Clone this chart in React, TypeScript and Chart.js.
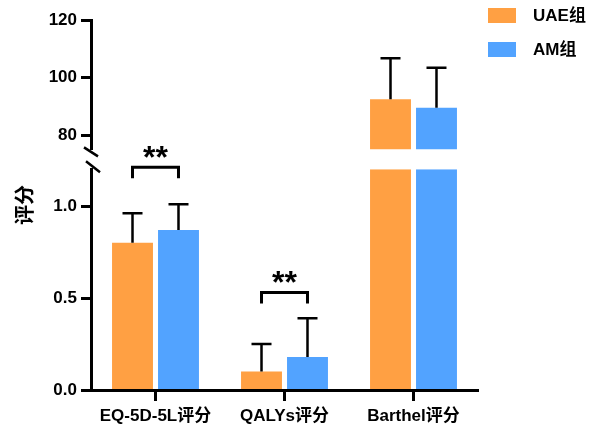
import { useEffect, useRef } from 'react';
import { Chart, registerables } from 'chart.js';

Chart.register(...registerables);

// ---- data ----
const CATEGORIES = ['EQ-5D-5L评分', 'QALYs评分', 'Barthel评分'];
const SERIES_NAMES = ['UAE组', 'AM组'];
const UAE_MEAN = [0.8, 0.1, 92.4];
const UAE_SD = [0.16, 0.15, 14.3];
const AM_MEAN = [0.87, 0.18, 89.5];
const AM_SD = [0.14, 0.21, 13.9];
const SIG_MARKS = ['**', '**', ''];
const SIG_BRACKET = [1.21, 0.53, null];
const Y_TITLE = '评分';
const LOW_MIN = 0;
const LOW_MAX = 1.2;
const LOW_STEP = 0.5;
const HIGH_MIN = 75;
const HIGH_MAX = 120;
const HIGH_STEP = 20;

// ---- styles ----
const COLORS = ['#FFA043', '#52A3FF'];
const FONT = '"Liberation Sans", Arial, "Noto Sans CJK SC", sans-serif';
const CJK_FONT = '"Liberation Sans", "Noto Sans CJK SC", sans-serif';

const MEANS = [UAE_MEAN, AM_MEAN];
const SDS = [UAE_SD, AM_SD];

const overlay = {
  id: 'overlay',
  afterDatasetsDraw(chart: any) {
    const ctx = chart.ctx;
    const area = chart.chartArea;
    const low = chart.scales.yLow;
    const high = chart.scales.yHigh;
    ctx.save();
    // error bars
    ctx.strokeStyle = '#000';
    ctx.lineWidth = 2.5;
    chart.data.datasets.forEach((ds: any, di: number) => {
      const s = ds.seriesIndex;
      const scale = chart.scales[ds.yAxisID];
      const meta = chart.getDatasetMeta(di);
      meta.data.forEach((el: any, i: number) => {
        const mean = MEANS[s][i];
        if (ds.data[i] === null || ds.data[i] !== mean) return;
        const yTop = scale.getPixelForValue(mean + SDS[s][i]);
        ctx.beginPath();
        ctx.moveTo(el.x, el.y);
        ctx.lineTo(el.x, yTop);
        ctx.moveTo(el.x - 10, yTop);
        ctx.lineTo(el.x + 10, yTop);
        ctx.stroke();
      });
    });
    // significance brackets
    const m0 = chart.getDatasetMeta(0);
    const m1 = chart.getDatasetMeta(1);
    SIG_BRACKET.forEach((v, i) => {
      if (v === null || !SIG_MARKS[i]) return;
      const x1 = m0.data[i].x;
      const x2 = m1.data[i].x;
      const yb = low.getPixelForValue(v);
      ctx.lineWidth = 3;
      ctx.beginPath();
      ctx.moveTo(x1, yb + 11);
      ctx.lineTo(x1, yb);
      ctx.lineTo(x2, yb);
      ctx.lineTo(x2, yb + 11);
      ctx.stroke();
      ctx.fillStyle = '#000';
      ctx.font = 'bold 32px ' + FONT;
      ctx.textAlign = 'center';
      ctx.textBaseline = 'alphabetic';
      ctx.fillText(SIG_MARKS[i], (x1 + x2) / 2, yb + 1);
    });
    // axis break marks
    const ax = area.left;
    ctx.lineWidth = 2.5;
    ctx.beginPath();
    ctx.moveTo(ax - 7, high.bottom - 2);
    ctx.lineTo(ax + 7, high.bottom + 7);
    ctx.moveTo(ax - 5, low.top - 8);
    ctx.lineTo(ax + 9, low.top + 3);
    ctx.stroke();
    // y title
    ctx.save();
    ctx.translate(26, (high.top + low.bottom) / 2);
    ctx.rotate(-Math.PI / 2);
    ctx.fillStyle = '#000';
    ctx.font = 'bold 20px ' + CJK_FONT;
    ctx.textAlign = 'center';
    ctx.textBaseline = 'middle';
    ctx.fillText(Y_TITLE, 0, 0);
    ctx.restore();
    // legend
    SERIES_NAMES.forEach((name, k) => {
      const y = 8 + k * 34;
      ctx.fillStyle = COLORS[k];
      ctx.fillRect(area.right + 10, y, 28, 15);
      ctx.fillStyle = '#000';
      ctx.font = 'bold 17px ' + CJK_FONT;
      ctx.textAlign = 'left';
      ctx.textBaseline = 'middle';
      ctx.fillText(name, area.right + 55, y + 8);
    });
    ctx.restore();
  },
};

export default function App() {
  const ref = useRef<HTMLCanvasElement>(null);
  useEffect(() => {
    if (!ref.current) return;
    const lowData = (arr: number[]) => arr.map((v) => Math.min(v, LOW_MAX));
    const highData = (arr: number[]) => arr.map((v) => (v > LOW_MAX ? v : null));
    const common = {
      borderWidth: 0,
      categoryPercentage: 0.713,
      barPercentage: 0.89,
    };
    const tickFont = { family: FONT, size: 17, weight: 'bold' as const };
    const yCommon = {
      type: 'linear' as const,
      position: 'left' as const,
      stack: 'v',
      stacked: false,
      grid: { display: true, drawOnChartArea: false, drawTicks: true, tickLength: 10, tickWidth: 3, tickColor: '#000' },
      border: { display: true, width: 3, color: '#000', z: 1 },
      afterFit: (s: any) => { s.width = 91; },
    };
    const chart = new Chart(ref.current, {
      type: 'bar',
      data: {
        labels: CATEGORIES,
        datasets: [
          { ...common, label: SERIES_NAMES[0], data: lowData(UAE_MEAN), backgroundColor: COLORS[0], yAxisID: 'yLow', stack: 'uae', seriesIndex: 0 } as any,
          { ...common, label: SERIES_NAMES[1], data: lowData(AM_MEAN), backgroundColor: COLORS[1], yAxisID: 'yLow', stack: 'am', seriesIndex: 1 } as any,
          { ...common, label: SERIES_NAMES[0], data: highData(UAE_MEAN), backgroundColor: COLORS[0], yAxisID: 'yHigh', stack: 'uae', base: HIGH_MIN, seriesIndex: 0 } as any,
          { ...common, label: SERIES_NAMES[1], data: highData(AM_MEAN), backgroundColor: COLORS[1], yAxisID: 'yHigh', stack: 'am', base: HIGH_MIN, seriesIndex: 1 } as any,
        ],
      },
      options: {
        animation: false,
        responsive: false,
        devicePixelRatio: 1,
        layout: { padding: { top: 20, right: 120, left: 0, bottom: 0 } },
        plugins: { legend: { display: false }, tooltip: { enabled: false } },
        scales: {
          x: {
            type: 'category',
            offset: true,
            grid: { display: true, drawOnChartArea: false, offset: false, drawTicks: true, tickLength: 11, tickWidth: 3, tickColor: '#000' },
            border: { display: true, width: 3, color: '#000', z: 1 },
            ticks: { color: '#000', font: tickFont, padding: 5, maxRotation: 0, autoSkip: false },
            afterFit: (s: any) => { s.height = 42; },
          },
          yHigh: {
            ...yCommon,
            min: HIGH_MIN,
            max: HIGH_MAX,
            weight: 3,
            stackWeight: 129.4,
            ticks: { stepSize: HIGH_STEP, includeBounds: false, color: '#000', font: tickFont, padding: 4, callback: (v: any) => String(v) },
          },
          ySpacer: {
            type: 'linear',
            position: 'left',
            stack: 'v',
            weight: 2,
            stackWeight: 19.8,
            grid: { display: false },
            border: { display: false },
            ticks: { display: false },
            afterFit: (s: any) => { s.width = 91; },
          },
          yLow: {
            ...yCommon,
            min: LOW_MIN,
            max: LOW_MAX,
            weight: 1,
            stackWeight: 220.8,
            ticks: { stepSize: LOW_STEP, includeBounds: false, color: '#000', font: tickFont, padding: 4, callback: (v: any) => Number(v).toFixed(1) },
          },
        } as any,
      },
      plugins: [overlay],
    });
    return () => chart.destroy();
  }, []);
  return (
    <div style={{ position: 'absolute', left: 0, top: 0, width: 598, height: 432, background: '#fff' }}>
      <canvas ref={ref} width={598} height={432} style={{ display: 'block' }} />
    </div>
  );
}
